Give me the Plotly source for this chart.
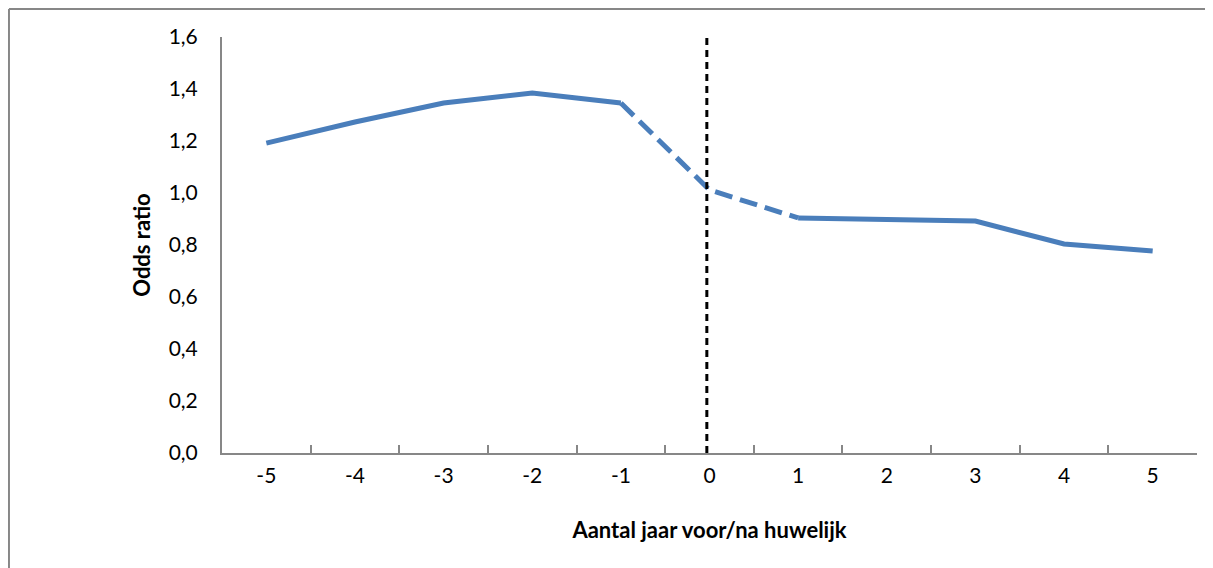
import plotly.graph_objects as go

categories = ["-5", "-4", "-3", "-2", "-1", "0", "1", "2", "3", "4", "5"]
odds_solid = [1.192, 1.273, 1.346, 1.385, 1.346, None, 0.904, 0.898, 0.892, 0.804, 0.777]
dash_cats = ["-1", "0", "1"]
odds_dash = [1.346, 1.012, 0.904]
y_ticks = [0.0, 0.2, 0.4, 0.6, 0.8, 1.0, 1.2, 1.4, 1.6]

BLUE = "#4a7ebb"
FONT = "Lato"

fig = go.Figure()
fig.add_trace(go.Scatter(x=categories, y=odds_solid, mode="lines",
                         line=dict(color=BLUE, width=5), connectgaps=False,
                         showlegend=False, hoverinfo="skip"))
fig.add_trace(go.Scatter(x=dash_cats, y=odds_dash, mode="lines",
                         line=dict(color=BLUE, width=5, dash="18px,8px"),
                         showlegend=False, hoverinfo="skip"))

# vertical dashed marker at year 0
fig.add_shape(type="line", xref="x", yref="y", x0=4.97, x1=4.97, y0=0, y1=1.64,
              line=dict(color="black", width=3, dash="7px,5px"), layer="above")
# outer frame (top and left edges visible in the crop)
fig.add_shape(type="line", xref="paper", yref="paper", x0=-0.2185, x1=1.3, y0=1.0673, y1=1.0673,
              line=dict(color="#878787", width=2), layer="below")
fig.add_shape(type="line", xref="paper", yref="paper", x0=-0.2185, x1=-0.2185, y0=-0.5, y1=1.0673,
              line=dict(color="#878787", width=2), layer="below")

fig.update_layout(
    width=1213, height=568,
    margin=dict(l=214, r=24, t=29, b=123),
    plot_bgcolor="white", paper_bgcolor="white",
    separators=", ",
    font=dict(family=FONT, size=21, color="black"),
    xaxis=dict(type="category", categoryorder="array", categoryarray=categories,
               range=[-0.5, 10.5], tickson="boundaries", ticks="inside", ticklen=8,
               tickcolor="#878787", tickwidth=1.5,
               showline=True, linecolor="#878787", linewidth=2, showgrid=False,
               zeroline=False, ticklabelstandoff=3,
               title=dict(text="<b>Aantal jaar voor/na huwelijk</b>", standoff=36,
                          font=dict(family=FONT, size=22))),
    yaxis=dict(range=[0, 1.6], tickvals=y_ticks, tickformat=".1f", ticks="",
               showline=True, linecolor="#878787", linewidth=2, showgrid=False,
               zeroline=False, ticklabelstandoff=18,
               title=dict(text="<b>Odds ratio</b>", standoff=12,
                          font=dict(family=FONT, size=22))),
)

fig.write_html("out.html")
